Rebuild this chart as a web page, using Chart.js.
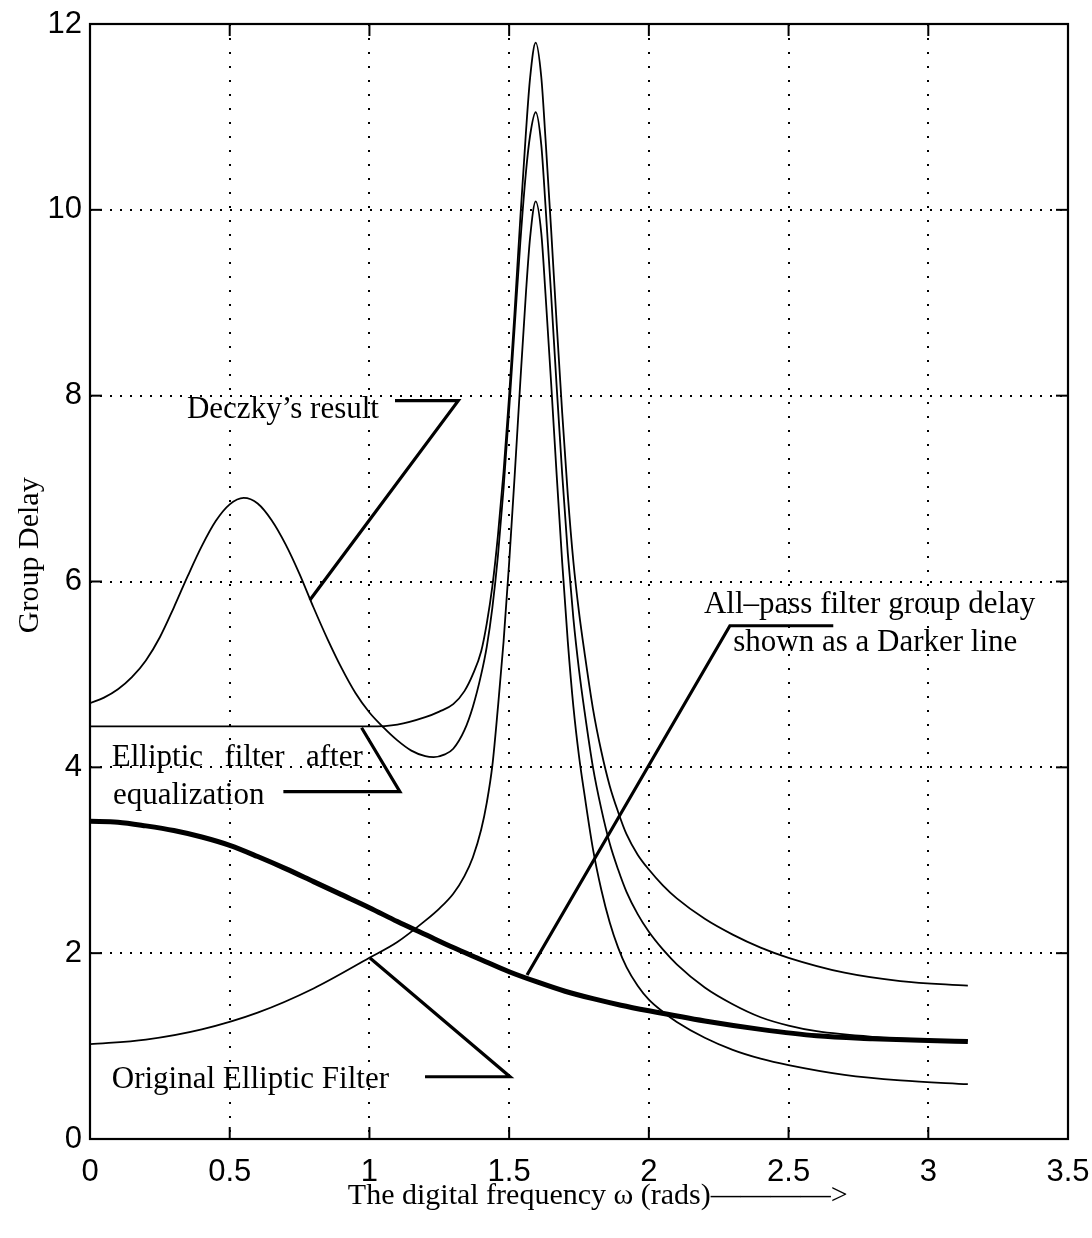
<!DOCTYPE html>
<html><head><meta charset="utf-8">
<script src="https://cdn.jsdelivr.net/npm/chart.js@4.4.0/dist/chart.umd.min.js"></script>
<style>html,body{margin:0;padding:0;background:#fff;}#c{display:block;}</style>
</head><body>
<canvas id="c" width="1092" height="1238"></canvas>
<script>
// ---- data ----
const xOrig = [0,0.2,0.4,0.6,0.8,1.0,1.1,1.2,1.25,1.3,1.34,1.37,1.40,1.42,1.44,1.46,1.48,1.50,1.52,1.54,1.56,1.575,1.595,1.615,1.63,1.65,1.67,1.69,1.71,1.73,1.75,1.77,1.80,1.83,1.86,1.89,1.92,1.96,2.0,2.05,2.1,2.2,2.3,2.4,2.5,2.7,2.9,3.1416];
const yOrig = [1.02,1.07,1.18,1.36,1.62,1.95,2.12,2.35,2.48,2.64,2.83,3.03,3.33,3.62,4.02,4.65,5.35,6.2,7.15,8.15,9.1,9.7,10.09,9.75,9.1,8.15,7.15,6.2,5.35,4.65,4.12,3.7,3.12,2.68,2.33,2.06,1.85,1.65,1.5,1.37,1.26,1.09,0.96,0.865,0.795,0.69,0.63,0.59];

const xEq = [0,0.3,0.6,0.9,1.0,1.1,1.2,1.25,1.3,1.34,1.37,1.40,1.42,1.44,1.46,1.48,1.50,1.52,1.54,1.56,1.575,1.595,1.615,1.63,1.65,1.67,1.69,1.71,1.73,1.75,1.77,1.80,1.83,1.86,1.89,1.92,1.96,2.0,2.05,2.1,2.2,2.3,2.4,2.5,2.7,2.9,3.1416];
const yEq = [4.44,4.44,4.44,4.44,4.44,4.46,4.54,4.6,4.68,4.82,5.0,5.25,5.55,5.95,6.5,7.18,8.0,8.93,9.91,10.83,11.42,11.8,11.43,10.77,9.8,8.78,7.81,6.93,6.21,5.67,5.23,4.63,4.17,3.8,3.52,3.28,3.06,2.9,2.73,2.59,2.37,2.2,2.06,1.95,1.79,1.7,1.65];

const xDeczky = [0,0.05,0.1,0.15,0.2,0.25,0.3,0.35,0.4,0.45,0.5,0.55,0.6,0.65,0.7,0.75,0.8,0.85,0.9,0.95,1.0,1.05,1.1,1.15,1.2,1.23,1.27,1.3,1.34,1.37,1.40,1.42,1.44,1.46,1.48,1.50,1.52,1.54,1.56,1.575,1.595,1.615,1.63,1.65,1.67,1.69,1.71,1.73,1.75,1.77,1.80,1.83,1.86,1.89,1.92,1.96,2.0,2.05,2.1,2.2,2.3,2.4,2.5,2.6,2.8,3.0,3.1416];
const yDeczky = [4.69,4.75,4.84,4.97,5.15,5.4,5.72,6.06,6.38,6.65,6.83,6.9,6.84,6.66,6.4,6.08,5.72,5.38,5.07,4.8,4.59,4.43,4.29,4.18,4.12,4.11,4.14,4.2,4.4,4.65,5.0,5.3,5.72,6.28,7.0,7.85,8.75,9.65,10.4,10.8,11.05,10.7,10.05,9.1,8.1,7.15,6.3,5.6,5.05,4.6,4.0,3.55,3.18,2.9,2.66,2.42,2.23,2.04,1.88,1.63,1.45,1.31,1.22,1.16,1.1,1.07,1.06];

const xAllpass = [0,0.1,0.2,0.3,0.4,0.5,0.6,0.7,0.8,0.9,1.0,1.1,1.2,1.3,1.4,1.5,1.6,1.7,1.8,1.9,2.0,2.2,2.4,2.6,2.8,3.0,3.1416];
const yAllpass = [3.42,3.41,3.37,3.32,3.25,3.16,3.04,2.91,2.77,2.63,2.49,2.34,2.2,2.06,1.93,1.8,1.69,1.59,1.51,1.44,1.38,1.27,1.18,1.11,1.08,1.06,1.05];

const xTickValues = [0,0.5,1,1.5,2,2.5,3,3.5];
const yTickValues = [0,2,4,6,8,10,12];

const xTitle = "The digital frequency \u03c9 (rads)\u2014\u2014\u2014\u2014>";
const yTitle = "Group Delay";

// annotation texts and their anchor points (data units)
const noteTexts = ["Deczky\u2019s result", "Elliptic filter after", "equalization", "Original Elliptic Filter", "All\u2013pass filter group delay", "shown as a Darker line"];
const noteX = [0.347, 0.078, 0.082, 0.078, 2.197, 2.302];
const noteY = [7.76, 4.014, 3.605, 0.549, 5.661, 5.255];
const noteJustifyTo = [null, 0.976, null, null, null, null];

// pointer polylines (data units)
const pointers = [
  [[1.0915,7.946],[1.318,7.946],[0.787,5.801]],
  [[0.972,4.426],[1.109,3.738],[0.692,3.738]],
  [[1.002,1.948],[1.503,0.670],[1.199,0.670]],
  [[2.660,5.524],[2.290,5.524],[1.564,1.765]]
];

// ---- chart ----
const pts = (xs, ys) => xs.map((x, i) => ({x: x, y: ys[i]}));
const serif = "'Liberation Serif', 'Times New Roman', serif";
const sansFam = "'Liberation Sans', Arial, sans-serif";

const matlabPlugin = {
  id: 'matlabDecor',
  afterDraw(chart) {
    const {ctx, chartArea, scales} = chart;
    const {left, right, top, bottom} = chartArea;
    const sx = scales.x, sy = scales.y;
    ctx.save();
    ctx.strokeStyle = '#000';
    ctx.lineWidth = 2;
    ctx.lineCap = 'butt';
    const seg = (a, b, c, d) => { ctx.beginPath(); ctx.moveTo(a, b); ctx.lineTo(c, d); ctx.stroke(); };
    xTickValues.forEach(v => { const p = sx.getPixelForValue(v); seg(p, bottom, p, bottom - 12); seg(p, top, p, top + 12); });
    yTickValues.forEach(v => { const p = sy.getPixelForValue(v); seg(left, p, left + 12, p); seg(right, p, right - 12, p); });
    ctx.lineWidth = 2.2;
    ctx.strokeRect(left, top, right - left, bottom - top);
    // pointers
    ctx.lineWidth = 3.2;
    ctx.lineJoin = 'miter';
    pointers.forEach(pl => {
      ctx.beginPath();
      pl.forEach((q, i) => {
        const px = sx.getPixelForValue(q[0]), py = sy.getPixelForValue(q[1]);
        if (i === 0) ctx.moveTo(px, py); else ctx.lineTo(px, py);
      });
      ctx.stroke();
    });
    // notes
    ctx.fillStyle = '#000';
    ctx.font = '31px ' + serif;
    ctx.textBaseline = 'alphabetic';
    ctx.textAlign = 'left';
    noteTexts.forEach((t, i) => {
      const px = sx.getPixelForValue(noteX[i]), py = sy.getPixelForValue(noteY[i]);
      if (noteJustifyTo[i] !== null) {
        const words = t.split(' ');
        const target = sx.getPixelForValue(noteJustifyTo[i]) - px;
        const wsum = words.reduce((s, w) => s + ctx.measureText(w).width, 0);
        const gap = (target - wsum) / (words.length - 1);
        let cx = px;
        words.forEach(w => { ctx.fillText(w, cx, py); cx += ctx.measureText(w).width + gap; });
      } else {
        ctx.fillText(t, px, py);
      }
    });
    ctx.restore();
  }
};

const thin = {borderColor: '#000', borderWidth: 1.8, pointRadius: 0, showLine: true, fill: false, cubicInterpolationMode: 'monotone'};

new Chart(document.getElementById('c'), {
  type: 'scatter',
  data: {
    datasets: [
      Object.assign({label: 'Original Elliptic Filter', data: pts(xOrig, yOrig)}, thin),
      Object.assign({label: 'Elliptic filter after equalization', data: pts(xEq, yEq)}, thin),
      Object.assign({label: "Deczky's result", data: pts(xDeczky, yDeczky)}, thin),
      Object.assign({label: 'All-pass filter group delay', data: pts(xAllpass, yAllpass)}, thin, {borderWidth: 5})
    ]
  },
  options: {
    responsive: false,
    animation: false,
    devicePixelRatio: 1,
    layout: {padding: {left: 0, right: 24, top: 24, bottom: 0}},
    plugins: {legend: {display: false}, tooltip: {enabled: false}},
    scales: {
      x: {
        type: 'linear', min: 0, max: 3.5,
        ticks: {stepSize: 0.5, color: '#000', font: {family: sansFam, size: 31, lineHeight: 2.06}, padding: 2, maxRotation: 0, autoSkip: false,
                callback: v => String(v)},
        grid: {color: '#000', lineWidth: 2, drawTicks: false},
        border: {display: false, dash: [2, 12]},
        title: {display: true, text: '     ' + xTitle, color: '#000', font: {family: serif, size: 30}, padding: {top: 0, bottom: 24}},
        afterFit: s => { s.height = 99; }
      },
      y: {
        type: 'linear', min: 0, max: 12,
        ticks: {stepSize: 2, color: '#000', font: {family: sansFam, size: 31, lineHeight: 1}, padding: 8, callback: v => String(v)},
        grid: {color: '#000', lineWidth: 2, drawTicks: false},
        border: {display: false, dash: [2, 8]},
        title: {display: true, text: '       ' + yTitle, color: '#000', font: {family: serif, size: 30}, padding: {top: 12, bottom: 0}},
        afterFit: s => { s.width = 90; }
      }
    }
  },
  plugins: [matlabPlugin]
});
</script>
</body></html>
